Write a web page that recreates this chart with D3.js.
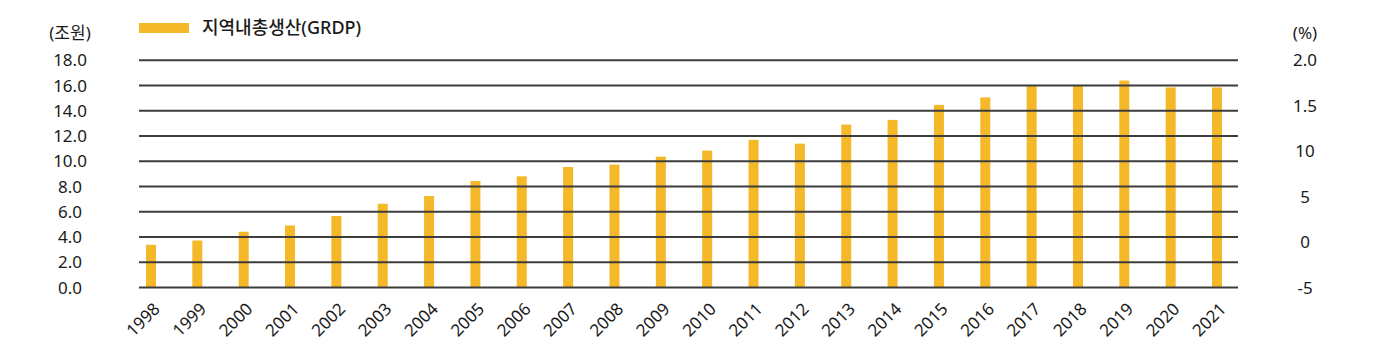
<!DOCTYPE html>
<html>
<head>
<meta charset="utf-8">
<script src="https://cdn.jsdelivr.net/npm/d3@7"></script>
<style>
  html, body { margin: 0; padding: 0; background: #fff; }
  svg { display: block; }
  text { font-family: "Noto Sans", "Noto Sans CJK KR", sans-serif; fill: #1a1a1a; }
</style>
</head>
<body>
<svg id="chart" width="1376" height="354"></svg>
<script>
const years = ["1998","1999","2000","2001","2002","2003","2004","2005","2006","2007","2008","2009","2010","2011","2012","2013","2014","2015","2016","2017","2018","2019","2020","2021"];
const grdp = [3.39,3.73,4.42,4.92,5.67,6.64,7.25,8.44,8.81,9.55,9.74,10.37,10.85,11.70,11.40,12.91,13.28,14.47,15.06,15.98,15.98,16.40,15.85,15.85];
const leftTicks = [0,2,4,6,8,10,12,14,16,18];
const rightTicks = [-5,0,5,10,15,20];
const rightTickLabels = ["-5","0","5","10","1.5","2.0"];
const seriesName = "지역내총생산(GRDP)";
const leftUnit = "(조원)";
const rightUnit = "(%)";

const svg = d3.select("#chart");
const barColor = "#F5B828";
const gridColor = "#3d3d3d";
const FS = "17px";

const x = d3.scaleBand().domain(years).range([127.8, 1240.2]);
const y = d3.scaleLinear().domain([0, 18]).range([287.6, 60.3]);
const yR = d3.scaleLinear().domain([-5, 20]).range([287.6, 60.3]);
const barW = 10;

// bars
svg.append("g").selectAll("rect").data(grdp).join("rect")
  .attr("x", (d, i) => x(years[i]) + x.bandwidth() / 2 - barW / 2)
  .attr("y", d => y(d))
  .attr("width", barW)
  .attr("height", d => y(0) - y(d))
  .attr("fill", barColor);

// gridlines (drawn on top of bars)
const gridX0 = 139, gridX1 = 1238;
svg.append("g").selectAll("line").data(leftTicks).join("line")
  .attr("x1", gridX0).attr("x2", gridX1)
  .attr("y1", d => y(d)).attr("y2", d => y(d))
  .attr("stroke", gridColor).attr("stroke-width", 2);

function styleText(sel) {
  sel.style("font-size", FS)
    .style("font-family", "'Noto Sans', 'Noto Sans CJK KR', sans-serif")
    .style("font-weight", 400)
    .style("fill", "#1a1a1a");
}

// left axis labels
const leftAxis = svg.append("g")
  .attr("transform", "translate(70,0)")
  .call(d3.axisLeft(y).tickValues(leftTicks).tickSize(0).tickPadding(0).tickFormat(d3.format(".1f")));
leftAxis.select(".domain").remove();
leftAxis.selectAll("text").attr("text-anchor", "middle").attr("x", 0).call(styleText);

// right axis labels
const rightAxis = svg.append("g")
  .attr("transform", "translate(1305,0)")
  .call(d3.axisRight(yR).tickValues(rightTicks).tickSize(0).tickPadding(0).tickFormat((d, i) => rightTickLabels[i]));
rightAxis.select(".domain").remove();
rightAxis.selectAll("text").attr("text-anchor", "middle").attr("x", 0).call(styleText);

// x axis labels
const xAxis = svg.append("g")
  .call(d3.axisBottom(x).tickSize(0).tickPadding(0));
xAxis.select(".domain").remove();
xAxis.selectAll(".tick").attr("transform", d => `translate(${x(d) + x.bandwidth() / 2 + 10},310)`);
xAxis.selectAll("text")
  .attr("x", 0).attr("y", 0).attr("dy", 0)
  .attr("text-anchor", "end")
  .attr("transform", "rotate(-45)")
  .call(styleText);

// units
svg.append("text").attr("x", 70).attr("y", 39).attr("text-anchor", "middle").text(leftUnit).call(styleText);
svg.append("text").attr("x", 1305).attr("y", 39).attr("text-anchor", "middle").text(rightUnit).call(styleText);

// legend
svg.append("rect").attr("x", 139).attr("y", 23).attr("width", 50).attr("height", 10).attr("fill", barColor);
svg.append("text").attr("x", 202).attr("y", 34)
  .text(seriesName).call(styleText)
  .style("font-size", "18px").style("font-weight", 500);
</script>
</body>
</html>
